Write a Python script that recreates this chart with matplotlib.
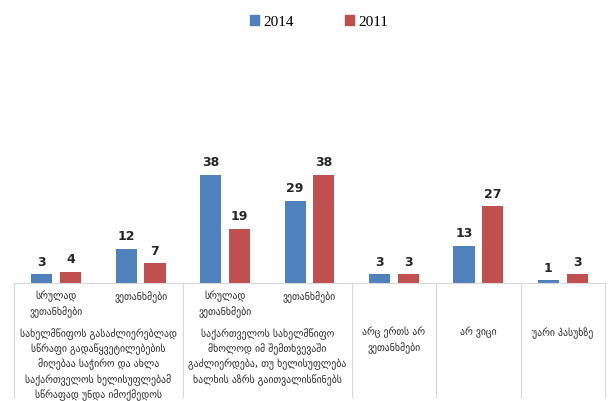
import numpy as np
import matplotlib
matplotlib.use("Agg")
import matplotlib.pyplot as plt
import matplotlib.transforms as mtransforms
from matplotlib.patches import Patch

plt.rcParams['font.family'] = ['DejaVu Sans']

# data
cats = ["სრულად\nვეთანხმები", "ვეთანხმები", "სრულად\nვეთანხმები", "ვეთანხმები",
        "არც ერთს არ\nვეთანხმები", "არ ვიცი", "უარი პასუხზე"]
groups = ["სახელმწიფოს გასაძლიერებლად\nსწრაფი გადაწყვეტილებების\nმიღებაა საჭირო და ახლა\n"
          "საქართველოს ხელისუფლებამ\nსწრაფად უნდა იმოქმედოს",
          "საქართველოს სახელმწიფო\nმხოლოდ იმ შემთხვევაში\nგაძლიერდება, თუ ხელისუფლება\n"
          "ხალხის აზრს გაითვალისწინებს"]
v2014 = [3, 12, 38, 29, 3, 13, 1]
v2011 = [4, 7, 19, 38, 3, 27, 3]
series = ["2014", "2011"]

blue = "#4F81BD"
red = "#C0504D"
txt = "#262626"
grid = "#D9D9D9"

fig = plt.figure(figsize=(6.11, 4.01), dpi=100)
W, H = 611, 401
ax = fig.add_axes([14 / W, 118 / H, 591 / W, 128 / H])

x = np.arange(len(cats))
w = 0.25
off = 0.17
b1 = ax.bar(x - off, v2014, w, color=blue)
b2 = ax.bar(x + off, v2011, w, color=red)
for bars in (b1, b2):
    ax.bar_label(bars, padding=4, fontsize=9, fontweight='bold', color=txt)

ax.set_xlim(-0.5, 6.5)
ax.set_ylim(0, 45)
ax.set_yticks([])
ax.set_xticks([])
for s in ["left", "right", "top"]:
    ax.spines[s].set_visible(False)
ax.spines["bottom"].set_color(grid)

trans = mtransforms.blended_transform_factory(ax.transData, fig.transFigure)

# separators
for b in [-0.5, 1.5, 3.5, 4.5, 5.5, 6.5]:
    ax.plot([b, b], [118 / H, 4 / H], color=grid, lw=0.8, transform=trans, clip_on=False)

# first level labels
for i in range(4):
    ax.text(x[i], (H - 291) / H, cats[i], transform=trans, ha='center', va='top',
            fontsize=7, color=txt, linespacing=1.45)

# outer labels
for gi, g in enumerate(groups):
    ax.text(gi * 2 + 0.5, (H - 328) / H, g, transform=trans, ha='center', va='top',
            fontsize=7, color=txt, linespacing=1.45)

for i in range(4, 7):
    ax.text(x[i], (H - 327) / H, cats[i], transform=trans, ha='center', va='top',
            fontsize=7, color=txt, linespacing=1.45)

handles = [Patch(color=blue), Patch(color=red)]
fig.legend(handles, series, loc='center', bbox_to_anchor=(319 / W, 1 - 22 / H), ncol=2,
           frameon=False, handlelength=0.6, handleheight=0.6, handletextpad=0.3,
           columnspacing=3.3, prop={'family': 'Liberation Serif', 'size': 11})

fig.savefig("out.png", dpi=100)
